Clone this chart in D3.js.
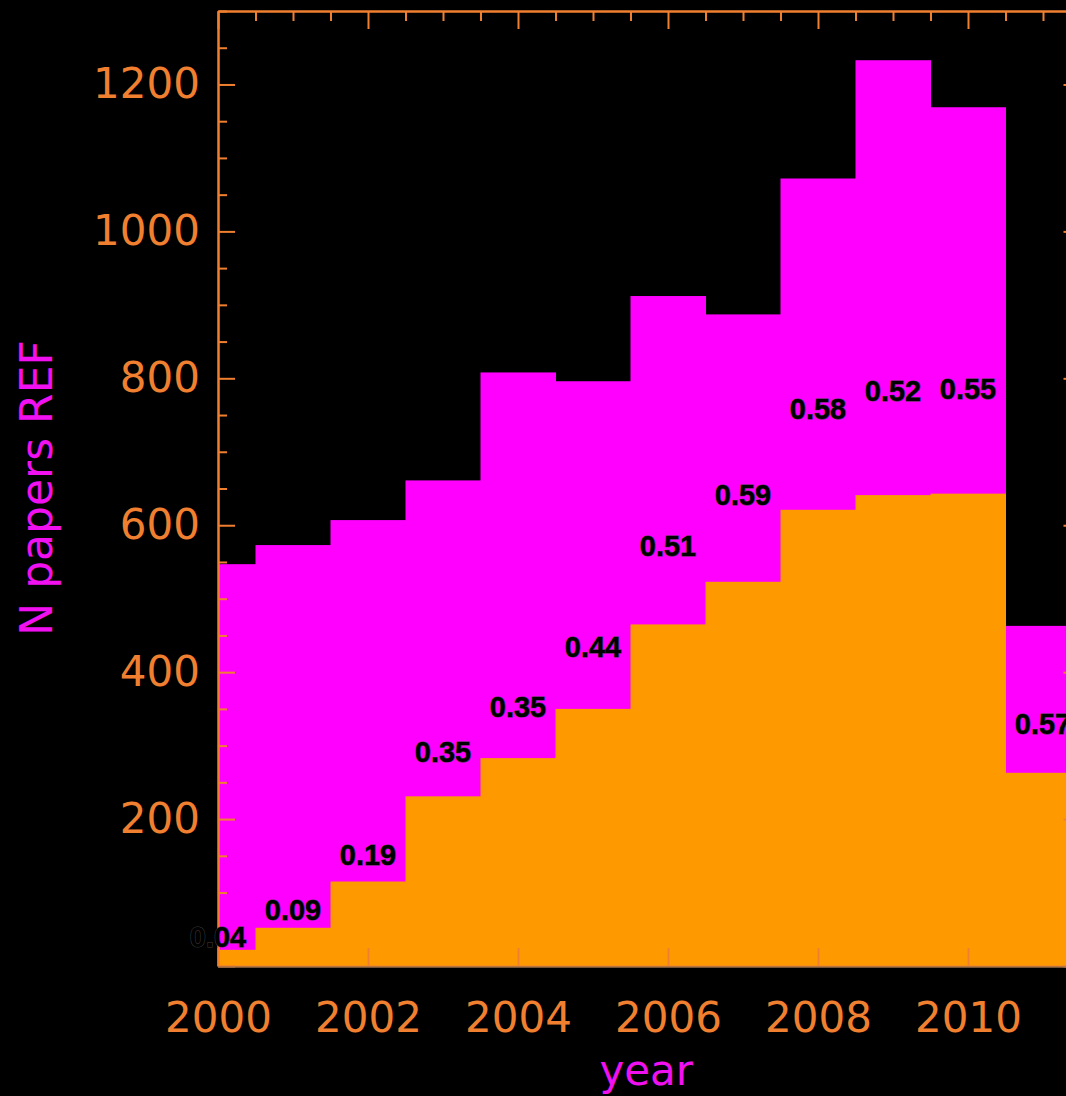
<!DOCTYPE html>
<html>
<head>
<meta charset="utf-8">
<script src="https://cdn.jsdelivr.net/npm/d3@7"></script>
<style>
  html, body { margin: 0; padding: 0; background: #000; }
  svg { display: block; }
</style>
</head>
<body>
<svg id="chart" width="1066" height="1096"></svg>
<script>
// Papers per year: all papers and those flagged REF
const years = [2000, 2001, 2002, 2003, 2004, 2005, 2006, 2007, 2008, 2009, 2010, 2011];
const totalPapers = [547, 573, 607, 661, 808, 796, 912, 887, 1072, 1233, 1169, 463];
const refPapers = [22, 52, 115, 231, 283, 350, 465, 523, 621, 641, 643, 263];
const yTickLabels = [200, 400, 600, 800, 1000, 1200];
const xTickLabels = [2000, 2002, 2004, 2006, 2008, 2010];

const AXIS = "#f08030";
const MAGENTA = "#ff00ff";
const ORANGE = "#ff9900";

const svg = d3.select("#chart");
svg.append("rect").attr("width", 1066).attr("height", 1096).attr("fill", "#000");

const plotLeft = 218, plotRight = 1080.5, plotTop = 11, plotBottom = 966;
const x = d3.scaleLinear().domain([2000, 2011.5]).range([plotLeft, plotRight]);
const y = d3.scaleLinear().domain([0, 1300]).range([plotBottom, plotTop]);

svg.append("clipPath").attr("id", "plot-clip")
  .append("rect").attr("x", plotLeft).attr("y", plotTop)
  .attr("width", plotRight - plotLeft).attr("height", plotBottom - plotTop + 1);

const rows = years.map((yr, i) => ({ year: yr, total: totalPapers[i], ref: refPapers[i] }));

// one bin per year, centred on the year
const binX0 = d => x(d.year - 0.5);
const binW = d => x(d.year + 0.5) - x(d.year - 0.5);

const plot = svg.append("g").attr("clip-path", "url(#plot-clip)");

plot.selectAll("rect.total").data(rows).join("rect")
  .attr("class", "total")
  .attr("x", binX0).attr("width", d => binW(d) + 0.5)
  .attr("y", d => y(d.total)).attr("height", d => plotBottom + 1 - y(d.total))
  .attr("fill", MAGENTA);

// axes
function styleAxis(g) {
  g.selectAll("path.domain").attr("stroke", AXIS).attr("stroke-width", 2);
  g.selectAll(".tick line").attr("stroke", AXIS).attr("stroke-width", 2);
  g.selectAll(".tick text").attr("fill", AXIS)
    .attr("font-family", "DejaVu Sans, sans-serif").attr("font-size", 42);
}

const yMinor = d3.range(0, 1301, 50).filter(v => v % 200 !== 0);
const yMajor = d3.range(0, 1301, 200);
const xMinor = d3.range(2000, 2011.51, 0.5).filter(v => v % 2 !== 0);
const xMajor = d3.range(2000, 2011.51, 2);

// left axis: ticks point inward, labels outside
svg.append("g").attr("transform", `translate(${plotLeft},0)`)
  .call(d3.axisLeft(y).tickValues(yMinor).tickSizeInner(-9).tickSizeOuter(0).tickFormat(""))
  .call(styleAxis);
svg.append("g").attr("transform", `translate(${plotLeft},0)`)
  .call(d3.axisLeft(y).tickValues(yMajor).tickSizeInner(-17).tickSizeOuter(0).tickPadding(18)
    .tickFormat(v => yTickLabels.includes(v) ? String(v) : ""))
  .call(styleAxis);

// right axis
svg.append("g").attr("transform", `translate(${plotRight},0)`)
  .call(d3.axisRight(y).tickValues(yMinor).tickSizeInner(-9).tickSizeOuter(0).tickFormat(""))
  .call(styleAxis);
svg.append("g").attr("transform", `translate(${plotRight},0)`)
  .call(d3.axisRight(y).tickValues(yMajor).tickSizeInner(-17).tickSizeOuter(0).tickFormat(""))
  .call(styleAxis);

// top axis
svg.append("g").attr("transform", `translate(0,${plotTop})`)
  .call(d3.axisTop(x).tickValues(xMinor).tickSizeInner(-10).tickSizeOuter(0).tickFormat(""))
  .call(styleAxis);
svg.append("g").attr("transform", `translate(0,${plotTop})`)
  .call(d3.axisTop(x).tickValues(xMajor).tickSizeInner(-18).tickSizeOuter(0).tickFormat(""))
  .call(styleAxis);

// bottom axis labels
svg.append("g").attr("transform", `translate(0,${plotBottom})`)
  .call(d3.axisBottom(x).tickValues(xTickLabels).tickSizeInner(-18).tickSizeOuter(0).tickPadding(36)
    .tickFormat(d3.format("d")))
  .call(styleAxis);

// REF papers drawn over the lower part of the axes
plot.selectAll("rect.ref").data(rows).join("rect")
  .attr("class", "ref")
  .attr("x", binX0).attr("width", d => binW(d) + 0.5)
  .attr("y", d => y(d.ref)).attr("height", d => plotBottom + 1 - y(d.ref))
  .attr("fill", ORANGE);

svg.append("line")
  .attr("x1", plotLeft).attr("x2", 1066).attr("y1", plotBottom + 1).attr("y2", plotBottom + 1)
  .attr("stroke", "#7a6a50").attr("stroke-width", 1);

// REF fraction above each bin
svg.append("g").selectAll("text").data(rows).join("text")
  .attr("x", d => x(d.year))
  .attr("y", d => y(d.ref * 1.2))
  .attr("text-anchor", "middle")
  .attr("font-family", "Liberation Sans, Arial, sans-serif")
  .attr("font-weight", "bold")
  .attr("font-size", 29)
  .attr("fill", "#000")
  .attr("stroke", "#3c3c3c")
  .attr("stroke-width", 1)
  .attr("paint-order", "stroke")
  .text(d => (d.ref / d.total).toFixed(2));

// axis titles
svg.append("text")
  .attr("x", (plotLeft + plotRight) / 2 - 3).attr("y", 1085)
  .attr("text-anchor", "middle")
  .attr("font-family", "DejaVu Sans, sans-serif").attr("font-size", 42)
  .attr("fill", "#f010f0")
  .text("year");

svg.append("text")
  .attr("transform", "translate(52,488) rotate(-90)")
  .attr("text-anchor", "middle")
  .attr("font-family", "DejaVu Sans, sans-serif").attr("font-size", 44)
  .attr("fill", "#f010f0")
  .text("N papers REF");
</script>
</body>
</html>
